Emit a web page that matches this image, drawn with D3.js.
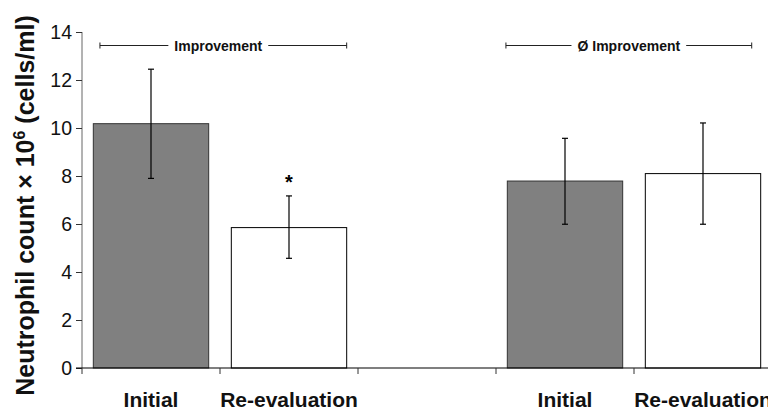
<!DOCTYPE html>
<html>
<head>
<meta charset="utf-8">
<script src="https://cdn.jsdelivr.net/npm/d3@7"></script>
<style>
  html, body { margin: 0; padding: 0; background: #fff; }
  svg { display: block; font-family: "Liberation Sans", Arial, Helvetica, sans-serif; }
</style>
</head>
<body>
<svg id="chart" width="768" height="410"></svg>
<script>
// ---- data ----
const categoryKeys = ["imp-initial", "imp-re", "gap", "noimp-initial", "noimp-re"];
const categoryLabels = ["Initial", "Re-evaluation", "", "Initial", "Re-evaluation"];
const meanValues = [10.18, 5.85, null, 7.79, 8.10];
const errorHigh = [12.45, 7.17, null, 9.57, 10.21];
const errorLow = [7.90, 4.57, null, 5.99, 5.99];
const barKinds = ["initial", "re", null, "initial", "re"];
const yTicks = [0, 2, 4, 6, 8, 10, 12, 14];
const bracketLabels = ["Improvement", "Ø Improvement"];
const bracketStart = ["imp-initial", "noimp-initial"];
const bracketEnd = ["imp-re", "noimp-re"];
const significance = ["", "*", "", "", ""];
const yLabel = "Neutrophil count × 10";

// ---- layout ----
const svg = d3.select("#chart");
const x0 = 82, x1 = 772, yTop = 32, yBottom = 368;
const x = d3.scaleBand().domain(categoryKeys).range([x0, x1]).padding(0);
const y = d3.scaleLinear().domain([0, 14]).range([yBottom, yTop]);
const bw = x.bandwidth();
const barPad = bw * 0.082;
const barW = bw - 2 * barPad;
const fillOf = { initial: "#808080", re: "#ffffff" };

// bars
const rows = categoryKeys.map((k, i) => ({
  key: k, label: categoryLabels[i], v: meanValues[i], hi: errorHigh[i], lo: errorLow[i],
  kind: barKinds[i], sig: significance[i]
}));
const barRows = rows.filter(d => d.v != null);

svg.append("g").selectAll("rect").data(barRows).join("rect")
  .attr("x", d => x(d.key) + barPad)
  .attr("y", d => y(d.v))
  .attr("width", barW)
  .attr("height", d => y(0) - y(d.v))
  .attr("fill", d => fillOf[d.kind])
  .attr("stroke", d => d.kind === "initial" ? "#333" : "#000")
  .attr("stroke-width", 1);

// error bars
const eg = svg.append("g").attr("stroke", "#000").attr("stroke-width", 1.2);
barRows.forEach(d => {
  const cx = x(d.key) + bw / 2;
  eg.append("line").attr("x1", cx).attr("x2", cx).attr("y1", y(d.hi)).attr("y2", y(d.lo));
  eg.append("line").attr("x1", cx - 3).attr("x2", cx + 3).attr("y1", y(d.hi)).attr("y2", y(d.hi));
  eg.append("line").attr("x1", cx - 3).attr("x2", cx + 3).attr("y1", y(d.lo)).attr("y2", y(d.lo));
});

// significance marks
svg.append("g").selectAll("text").data(barRows.filter(d => d.sig)).join("text")
  .attr("x", d => x(d.key) + bw / 2)
  .attr("y", d => y(d.hi) - 7)
  .attr("text-anchor", "middle")
  .attr("font-size", 20)
  .attr("font-weight", "bold")
  .text(d => d.sig);

// y axis
const yAxis = svg.append("g").attr("transform", `translate(${x0},0)`)
  .call(d3.axisLeft(y).tickValues(yTicks).tickSize(6).tickPadding(4));
yAxis.select(".domain").attr("stroke", "#666").attr("d", `M0,${yTop}V${yBottom}`);
yAxis.selectAll(".tick line").attr("stroke", "#333");
yAxis.selectAll(".tick text").attr("font-size", 19.5).attr("fill", "#111")
  .attr("font-family", "'Liberation Sans', Arial, sans-serif");

// x axis: boundary ticks
const xAxisG = svg.append("g");
xAxisG.append("line").attr("x1", x0 - 6).attr("x2", 768).attr("y1", yBottom).attr("y2", yBottom)
  .attr("stroke", "#000").attr("stroke-width", 1.2);
xAxisG.selectAll("line.bt").data(categoryKeys).join("line").attr("class", "bt")
  .attr("x1", d => x(d)).attr("x2", d => x(d))
  .attr("y1", yBottom).attr("y2", yBottom + 6)
  .attr("stroke", "#333");
xAxisG.selectAll("text").data(rows.filter(d => d.label)).join("text")
  .attr("x", d => x(d.key) + bw / 2)
  .attr("y", 406.5)
  .attr("text-anchor", "middle")
  .attr("font-size", 21)
  .attr("font-weight", "bold")
  .attr("fill", "#111")
  .text(d => d.label);

// y label
const yl = svg.append("text")
  .attr("transform", `translate(33.5,${(13 + 398) / 2}) rotate(-90)`)
  .attr("text-anchor", "middle")
  .attr("font-size", 25)
  .attr("font-weight", "bold")
  .attr("fill", "#111");
yl.append("tspan").text(yLabel);
yl.append("tspan").attr("font-size", 16).attr("dy", -9).text("6");
yl.append("tspan").attr("dy", 9).text(" (cells/ml)");

// brackets
const bracketGeom = [
  { s: 0.13, e: 0.918, shift: -5 },
  { s: 0.072, e: 0.853, shift: 0 }
];
const by = 45.5;
bracketLabels.forEach((lab, i) => {
  const g = svg.append("g");
  const sx = x(bracketStart[i]) + bw * bracketGeom[i].s;
  const ex = x(bracketEnd[i]) + bw * bracketGeom[i].e;
  const cx = (sx + ex) / 2 + bracketGeom[i].shift;
  const t = g.append("text").attr("x", cx).attr("y", by + 5)
    .attr("text-anchor", "middle").attr("font-size", 14).attr("font-weight", "bold")
    .attr("fill", "#111").text(lab);
  const w = t.node().getComputedTextLength();
  const gap = 6;
  g.append("line").attr("x1", sx).attr("x2", cx - w / 2 - gap).attr("y1", by).attr("y2", by).attr("stroke", "#222");
  g.append("line").attr("x1", cx + w / 2 + gap).attr("x2", ex).attr("y1", by).attr("y2", by).attr("stroke", "#222");
  g.append("line").attr("x1", sx).attr("x2", sx).attr("y1", by - 3).attr("y2", by + 3).attr("stroke", "#222");
  g.append("line").attr("x1", ex).attr("x2", ex).attr("y1", by - 3).attr("y2", by + 3).attr("stroke", "#222");
});
</script>
</body>
</html>
